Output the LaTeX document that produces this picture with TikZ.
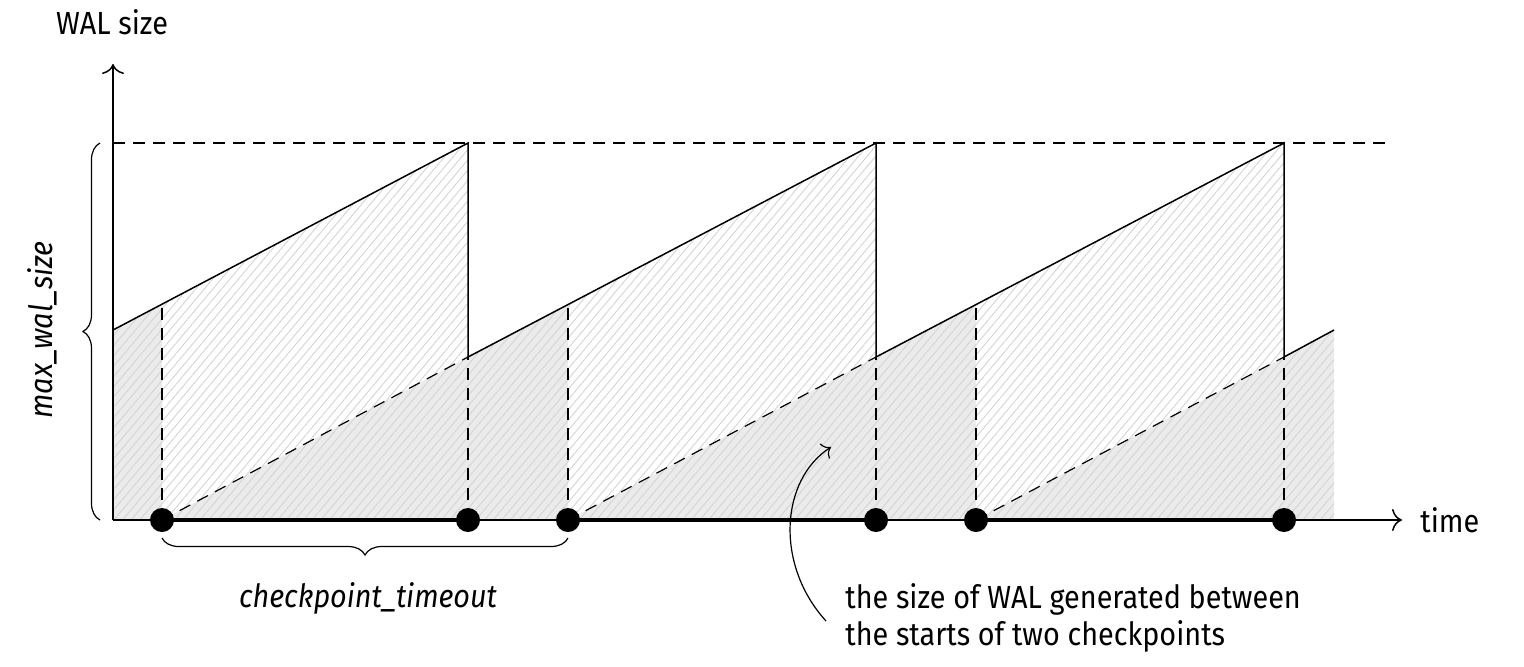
\documentclass[tikz,border=0pt]{standalone}
\usepackage{fontspec}
\setmainfont[FakeStretch=0.9]{Fira Sans}
\usetikzlibrary{arrows.meta,patterns.meta,decorations.pathreplacing}

\begin{document}
\begin{tikzpicture}[x=0.5pt,y=-0.5pt,
	axis/.style={line width=0.75pt, -{Computer Modern Rightarrow[length=5pt,width=11pt]}},
	guide/.style={dash pattern=on 6pt off 4pt, line width=0.6pt},
	dot/.style={circle, fill, minimum size=12pt, inner sep=0pt, outer sep=0pt},
	curlybrace/.style={decorate, decoration={brace, amplitude=8.5pt}, line width=0.6pt},
	lbl/.style={font=\fontsize{16}{18.5}\selectfont, inner sep=0pt}]
	\useasboundingbox (0,0) rectangle (1524,666);
	% points of the saw
	\coordinate (o) at (113,520);
	\coordinate (s0) at (113,330);
	\coordinate (t1) at (468,143);
	\coordinate (b1) at (468,357);
	\coordinate (t2) at (876,143);
	\coordinate (b2) at (876,357);
	\coordinate (t3) at (1284,143);
	\coordinate (b3) at (1284,357);
	\coordinate (s4) at (1334,330);
	\coordinate (e4) at (1334,520);
	\coordinate (m1) at (162,304);
	\coordinate (m2) at (568,304);
	\coordinate (m3) at (976,304);
	% checkpoints on the time axis
	\coordinate (k1) at (162,520);
	\coordinate (k2) at (468,520);
	\coordinate (k3) at (568,520);
	\coordinate (k4) at (876,520);
	\coordinate (k5) at (976,520);
	\coordinate (k6) at (1284,520);
	% areas
	\fill[black!8] (o)--(s0)--(m1)--(k1)--(b1)--(m2)--(k3)--(b2)--(m3)
		--(k5)--(b3)--(s4)--(e4)--cycle;
	\fill[pattern={Lines[angle=50,distance=3.3pt,line width=0.45pt]}, pattern color=black!17]
		(o)--(s0)--(t1)--(b1)--(t2)--(b2)--(t3)--(b3)--(s4)--(e4)--cycle;
	% saw line
	\draw[line width=0.75pt] (s0)--(t1)--(b1)--(t2)--(b2)--(t3)--(b3)--(s4);
	\draw[guide] (k1)--(m1) (k2)--(b1) (k3)--(m2) (k4)--(b2) (k5)--(m3) (k6)--(b3);
	\draw[guide] (k1)--(b1) (k3)--(b2) (k5)--(b3);
	\coordinate (lim) at (1386,143);
	\draw[guide] (113,143)--(lim);
	% axes
	\coordinate (ytip) at (113,64);
	\coordinate (xtip) at (1402,520);
	\draw[axis] (o)--(ytip);
	\draw[axis] (o)--(xtip);
	\draw[line width=2pt] (k1)--(k2) (k3)--(k4) (k5)--(k6);
	\node[dot] at (k1) (c1) {};
	\node[dot] at (k2) (c2) {};
	\node[dot] at (k3) (c3) {};
	\node[dot] at (k4) (c4) {};
	\node[dot] at (k5) (c5) {};
	\node[dot] at (k6) (c6) {};
	% labels
	\node[lbl] at (112,22) (ylbl) {WAL size};
	\node[lbl, anchor=west] at (1420,520) (xlbl) {time};
	\draw[curlybrace] (100,520)--(100,143);
	\node[lbl, rotate=90] at (42,330) (maxlbl) {\itshape max\_wal\_size};
	\draw[curlybrace] (568,538)--(162,538);
	\node[lbl] at (368,598) (tolbl) {\itshape checkpoint\_timeout};
	\node[lbl, anchor=north west, align=left] at (845,583) (note)
		{the size of WAL generated between\\the starts of two checkpoints};
	\coordinate (hit) at (831,447);
	\draw[line width=0.6pt, -{Computer Modern Rightarrow[length=4pt,width=9pt]}]
		(826,621) .. controls (775,565) and (780,480) .. (hit);
\end{tikzpicture}
\end{document}
